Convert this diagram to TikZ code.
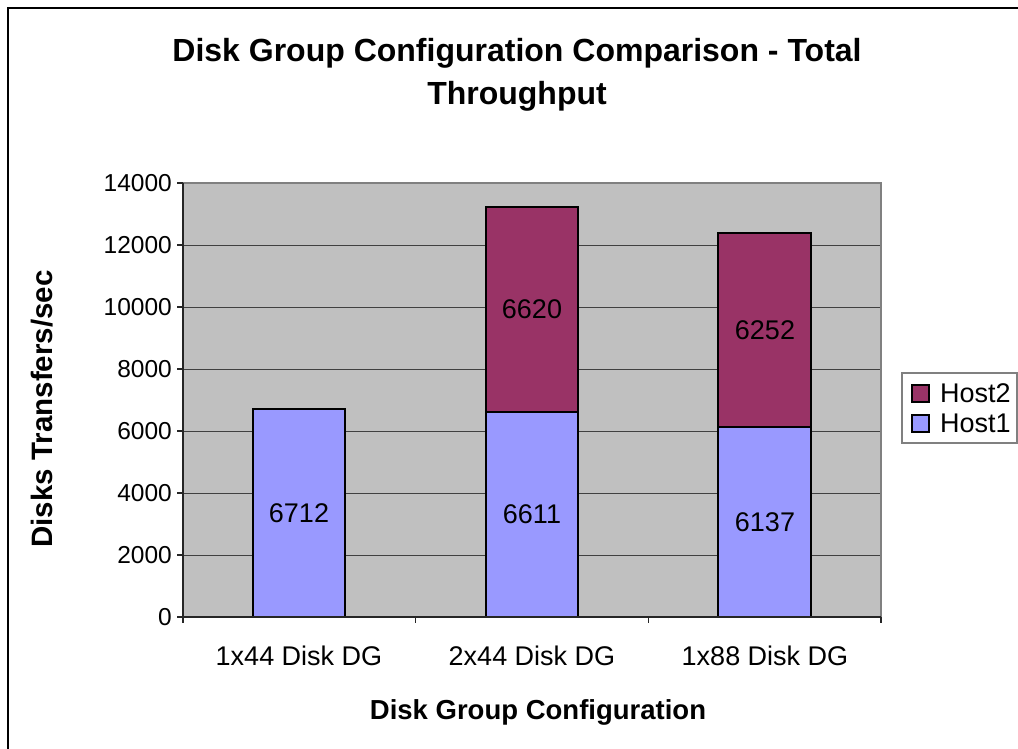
\documentclass[tikz,border=0pt]{standalone}
\usepackage{fontspec}
\setmainfont{Liberation Sans}
\definecolor{plotbg}{HTML}{C0C0C0}
\definecolor{hostone}{HTML}{9999FF}
\definecolor{hosttwo}{HTML}{993366}
\definecolor{framegray}{HTML}{808080}
\begin{document}
\begin{tikzpicture}[x=1pt,y=-1pt,
  txt/.style={font=\fontsize{27}{31}\selectfont, inner sep=0pt},
  ticklbl/.style={font=\fontsize{24.5}{28}\selectfont, inner sep=0pt, anchor=east},
  axtitle/.style={font=\bfseries\fontsize{27.5}{32}\selectfont, inner sep=0pt},
  bartwo/.style={fill=hosttwo, draw=black, line width=1.5pt},
  barone/.style={fill=hostone, draw=black, line width=1.5pt},
  grid/.style={draw=black!75, line width=1pt},
  axisline/.style={draw=black!85, line width=1.5pt}]
\useasboundingbox (0,0) rectangle (1018,749);
\clip (0,0) rectangle (1018,749);
\fill[white] (0,0) rectangle (1018,749);
\draw[line width=1.5pt] (8,8) rectangle (1040,770);
% plot area
\fill[plotbg] (183,183) rectangle (881,617);
\foreach \v in {1,...,6} {
  \draw[grid] (183,{617-62*\v}) -- (881,{617-62*\v});
}
\draw[draw=framegray, line width=1.5pt] (183,183) -- (881,183) -- (881,617);
% bars
\draw[barone] (253,617) rectangle (345,408.9);
\draw[barone] (486,617) rectangle (578,412.1);
\draw[bartwo] (486,412.1) rectangle (578,206.8);
\draw[barone] (718,617) rectangle (811,426.8);
\draw[bartwo] (718,426.8) rectangle (811,232.9);
% axes
\draw[axisline] (183,183) -- (183,617) -- (881,617);
\foreach \v in {0,...,7} {
  \draw[axisline] (177,{617-62*\v}) -- (183,{617-62*\v});
}
\foreach \x in {183,415.7,648.3,881} {
  \draw[axisline] (\x,617) -- (\x,623);
}
% tick labels
\node[ticklbl] (t0) at (172,617) {0};
\node[ticklbl] (t1) at (172,555) {2000};
\node[ticklbl] (t2) at (172,493) {4000};
\node[ticklbl] (t3) at (172,431) {6000};
\node[ticklbl] (t4) at (172,369) {8000};
\node[ticklbl] (t5) at (172,307) {10000};
\node[ticklbl] (t6) at (172,245) {12000};
\node[ticklbl] (t7) at (172,183) {14000};
% category labels
\node[txt] (c1) at (299,656) {1x44 Disk DG};
\node[txt] (c2) at (532,656) {2x44 Disk DG};
\node[txt] (c3) at (765,656) {1x88 Disk DG};
% data labels
\node[txt] (d1) at (299,513) {6712};
\node[txt] (d2) at (532,514.5) {6611};
\node[txt] (d3) at (532,309.5) {6620};
\node[txt] (d4) at (765,522) {6137};
\node[txt] (d5) at (765,330) {6252};
% titles
\node[font=\bfseries\fontsize{32}{43}\selectfont, align=center, inner sep=0pt] (title) at (517,75) {Disk Group Configuration Comparison - Total\\Throughput};
\node[axtitle] (xt) at (538,712) {Disk Group Configuration};
\node[axtitle, rotate=90, font=\bfseries\fontsize{29.5}{33}\selectfont] (yt) at (42,409) {Disks Transfers/sec};
% legend
\draw[draw=framegray, line width=1.5pt, fill=white] (902,373) rectangle (1017,443);
\draw[fill=hosttwo, draw=black, line width=1.2pt] (912,385) rectangle (929,402);
\draw[fill=hostone, draw=black, line width=1.2pt] (912,415) rectangle (929,432);
\node[txt, anchor=west] (l2) at (940,393.5) {Host2};
\node[txt, anchor=west] (l1) at (940,423.5) {Host1};
\end{tikzpicture}
\end{document}
